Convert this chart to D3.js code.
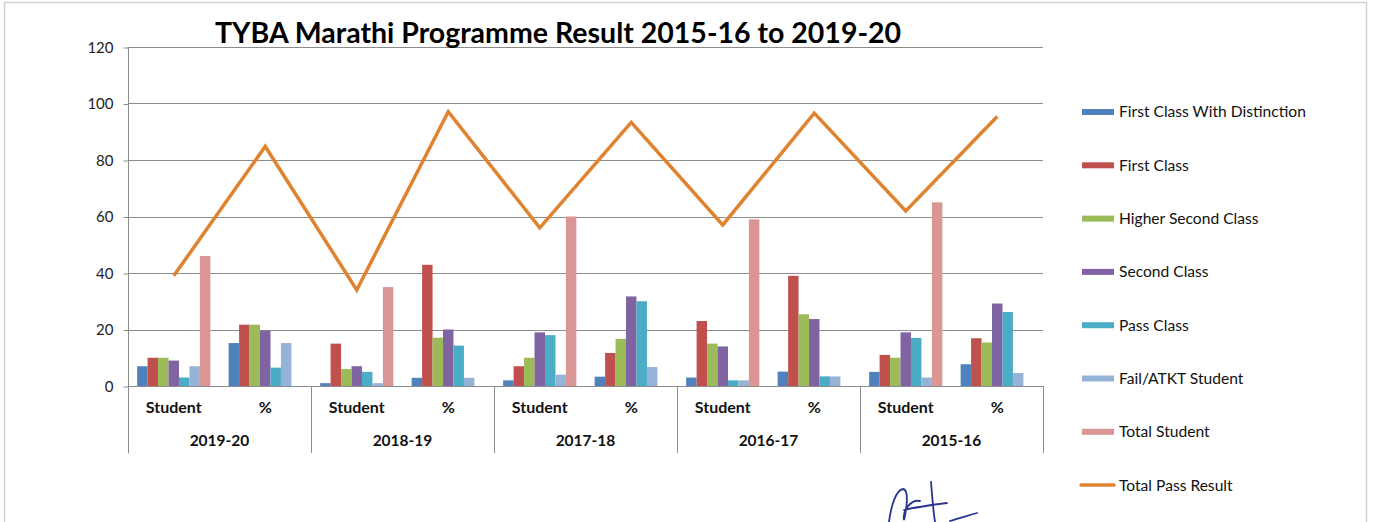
<!DOCTYPE html>
<html>
<head>
<meta charset="utf-8">
<script src="https://cdn.jsdelivr.net/npm/d3@7"></script>
<style>
  body { margin: 0; background: #fff; }
  svg { display: block; font-family: Lato, "Open Sans", sans-serif; }
</style>
</head>
<body>
<div id="chart"></div>
<script>
// data
const years = ["2019-20", "2018-19", "2017-18", "2016-17", "2015-16"];
const subCats = ["Student", "%"];
const seriesNames = [
  "First Class With Distinction",
  "First Class",
  "Higher Second Class",
  "Second Class",
  "Pass Class",
  "Fail/ATKT Student",
  "Total Student",
];
// one value per (year, sub category), in order Student, % for each year
const distinction = [7, 15.2, 1, 2.9, 2, 3.3, 3, 5.1, 5, 7.7];
const firstClass = [10, 21.7, 15, 42.9, 7, 11.7, 23, 39, 11, 16.9];
const higherSecond = [10, 21.7, 6, 17.1, 10, 16.7, 15, 25.4, 10, 15.4];
const secondClass = [9, 19.6, 7, 20, 19, 31.7, 14, 23.7, 19, 29.2];
const passClass = [3, 6.5, 5, 14.3, 18, 30, 2, 3.4, 17, 26.2];
const failAtkt = [7, 15.2, 1, 2.9, 4, 6.7, 2, 3.4, 3, 4.6];
const totalStudent = [46, null, 35, null, 60, null, 59, null, 65, null];
const totalPass = [39, 84.8, 34, 97.1, 56, 93.3, 57, 96.6, 62, 95.4];
const yTicks = [0, 20, 40, 60, 80, 100, 120];

const barSeries = [distinction, firstClass, higherSecond, secondClass, passClass, failAtkt, totalStudent];
const colors = ["#4f81bd", "#c0504d", "#9bbb59", "#8064a2", "#4bacc6", "#95b3d7", "#d99694"];
const lineColor = "#e0832f";

const width = 1386;
const height = 522;

const svg = d3
  .select("#chart")
  .append("svg")
  .attr("width", width)
  .attr("height", height);

//outer frame
svg
  .append("rect")
  .attr("x", 4.5)
  .attr("y", 2.5)
  .attr("width", 1362)
  .attr("height", 540)
  .attr("fill", "none")
  .attr("stroke", "#d0d0d0")
  .attr("stroke-width", 1.5);

const plotLeft = 128;
const plotRight = 1043;
const plotTop = 47;
const plotBottom = 386;

//category keys like "2019-20|Student"
const cats = [];
years.forEach((yr) => subCats.forEach((s) => cats.push(yr + "|" + s)));

const x = d3.scaleBand().domain(cats).range([plotLeft, plotRight]).padding(0);
const xYear = d3.scaleBand().domain(years).range([plotLeft, plotRight]).padding(0);
const y = d3.scaleLinear().domain([0, 120]).range([plotBottom, plotTop]);

const gap = x.bandwidth() * 0.1;
const xs = d3
  .scaleBand()
  .domain(seriesNames)
  .range([gap, x.bandwidth() - gap])
  .padding(0);

//gridlines
svg
  .append("g")
  .selectAll("line")
  .data(yTicks.filter((d) => d > 0))
  .enter()
  .append("line")
  .attr("x1", plotLeft)
  .attr("x2", plotRight)
  .attr("y1", (d) => Math.round(y(d)) + 0.5)
  .attr("y2", (d) => Math.round(y(d)) + 0.5)
  .attr("stroke", "#8c8c8c")
  .attr("stroke-width", 1);

//y axis
const yAxis = svg
  .append("g")
  .attr("transform", `translate(${plotLeft + 0.5},0.5)`)
  .call(d3.axisLeft(y).tickValues(yTicks).tickSize(5).tickPadding(10));
yAxis.select(".domain").attr("stroke", "#8c8c8c").attr("d", `M0,${plotTop}V${plotBottom + 67}`);
yAxis.selectAll(".tick line").attr("stroke", "#8c8c8c");
yAxis
  .selectAll(".tick text")
  .attr("font-size", 15)
  .attr("fill", "#222")
  .attr("font-family", "Lato, sans-serif");

//bars
const barsG = svg.append("g");
barSeries.forEach((vals, si) => {
  barsG
    .selectAll(null)
    .data(vals.map((v, i) => ({ v: v, cat: cats[i] })).filter((d) => d.v !== null))
    .enter()
    .append("rect")
    .attr("x", (d) => x(d.cat) + xs(seriesNames[si]))
    .attr("width", xs.bandwidth())
    .attr("y", (d) => y(d.v))
    .attr("height", (d) => y(0) - y(d.v))
    .attr("fill", colors[si]);
});

//baseline
svg
  .append("line")
  .attr("x1", plotLeft)
  .attr("x2", plotRight)
  .attr("y1", plotBottom + 0.5)
  .attr("y2", plotBottom + 0.5)
  .attr("stroke", "#8c8c8c");

//total pass result line
const line = d3
  .line()
  .x((d, i) => x(cats[i]) + x.bandwidth() / 2)
  .y((d) => y(d));
svg
  .append("path")
  .datum(totalPass)
  .attr("d", line)
  .attr("fill", "none")
  .attr("stroke", lineColor)
  .attr("stroke-width", 3.5)
  .attr("stroke-linejoin", "miter");

//multi-level category labels
const xLab = svg.append("g");
xLab
  .selectAll("text.sub")
  .data(cats)
  .enter()
  .append("text")
  .attr("class", "sub")
  .attr("x", (d) => x(d) + x.bandwidth() / 2)
  .attr("y", 413)
  .attr("text-anchor", "middle")
  .attr("font-size", 16)
  .attr("font-weight", "bold")
  .attr("fill", "#111")
  .text((d) => d.split("|")[1]);

xLab
  .selectAll("text.yr")
  .data(years)
  .enter()
  .append("text")
  .attr("class", "yr")
  .attr("x", (d) => xYear(d) + xYear.bandwidth() / 2)
  .attr("y", 446)
  .attr("text-anchor", "middle")
  .attr("font-size", 15.5)
  .attr("font-weight", "bold")
  .attr("fill", "#111")
  .text((d) => d);

xLab
  .selectAll("line")
  .data(years.slice(1).concat(["end"]))
  .enter()
  .append("line")
  .attr("x1", (d) => Math.round(d === "end" ? plotRight : xYear(d)) + 0.5)
  .attr("x2", (d) => Math.round(d === "end" ? plotRight : xYear(d)) + 0.5)
  .attr("y1", plotBottom)
  .attr("y2", plotBottom + 67)
  .attr("stroke", "#8c8c8c");

//title
svg
  .append("text")
  .attr("x", 558)
  .attr("y", 43)
  .attr("text-anchor", "middle")
  .attr("font-size", 28.5)
  .attr("font-weight", "bold")
  .attr("fill", "#000")
  .text("TYBA Marathi Programme Result 2015-16 to 2019-20");

//legend
const legendItems = seriesNames.concat(["Total Pass Result"]);
const legend = svg.append("g").attr("transform", "translate(1082,112)");
const rowStep = 53.3;
legend
  .selectAll("rect")
  .data(seriesNames)
  .enter()
  .append("rect")
  .attr("x", 0)
  .attr("y", (d, i) => i * rowStep - 3)
  .attr("width", 32)
  .attr("height", 6)
  .attr("fill", (d, i) => colors[i]);
legend
  .append("line")
  .attr("x1", -1)
  .attr("x2", 32)
  .attr("y1", 7 * rowStep)
  .attr("y2", 7 * rowStep)
  .attr("stroke", lineColor)
  .attr("stroke-width", 3.5)
  .attr("stroke-linecap", "round");
legend
  .selectAll("text")
  .data(legendItems)
  .enter()
  .append("text")
  .attr("x", 37)
  .attr("y", (d, i) => i * rowStep)
  .attr("dy", "0.35em")
  .attr("font-size", 15.6)
  .attr("fill", "#111")
  .text((d) => d);

//signature scribble
svg
  .append("path")
  .attr(
    "d",
    "M889,522 C891,506 896,490 903,489 C909,489 907,508 904,520 C902,511 911,499 920,501 M904,510 C916,507 931,505 947,503 M931,482 C932,494 933,509 935,522 M950,521 C959,518 967,516 977,513"
  )
  .attr("fill", "none")
  .attr("stroke", "#2b3590")
  .attr("stroke-width", 1.8)
  .attr("stroke-linecap", "round");
</script>
</body>
</html>
